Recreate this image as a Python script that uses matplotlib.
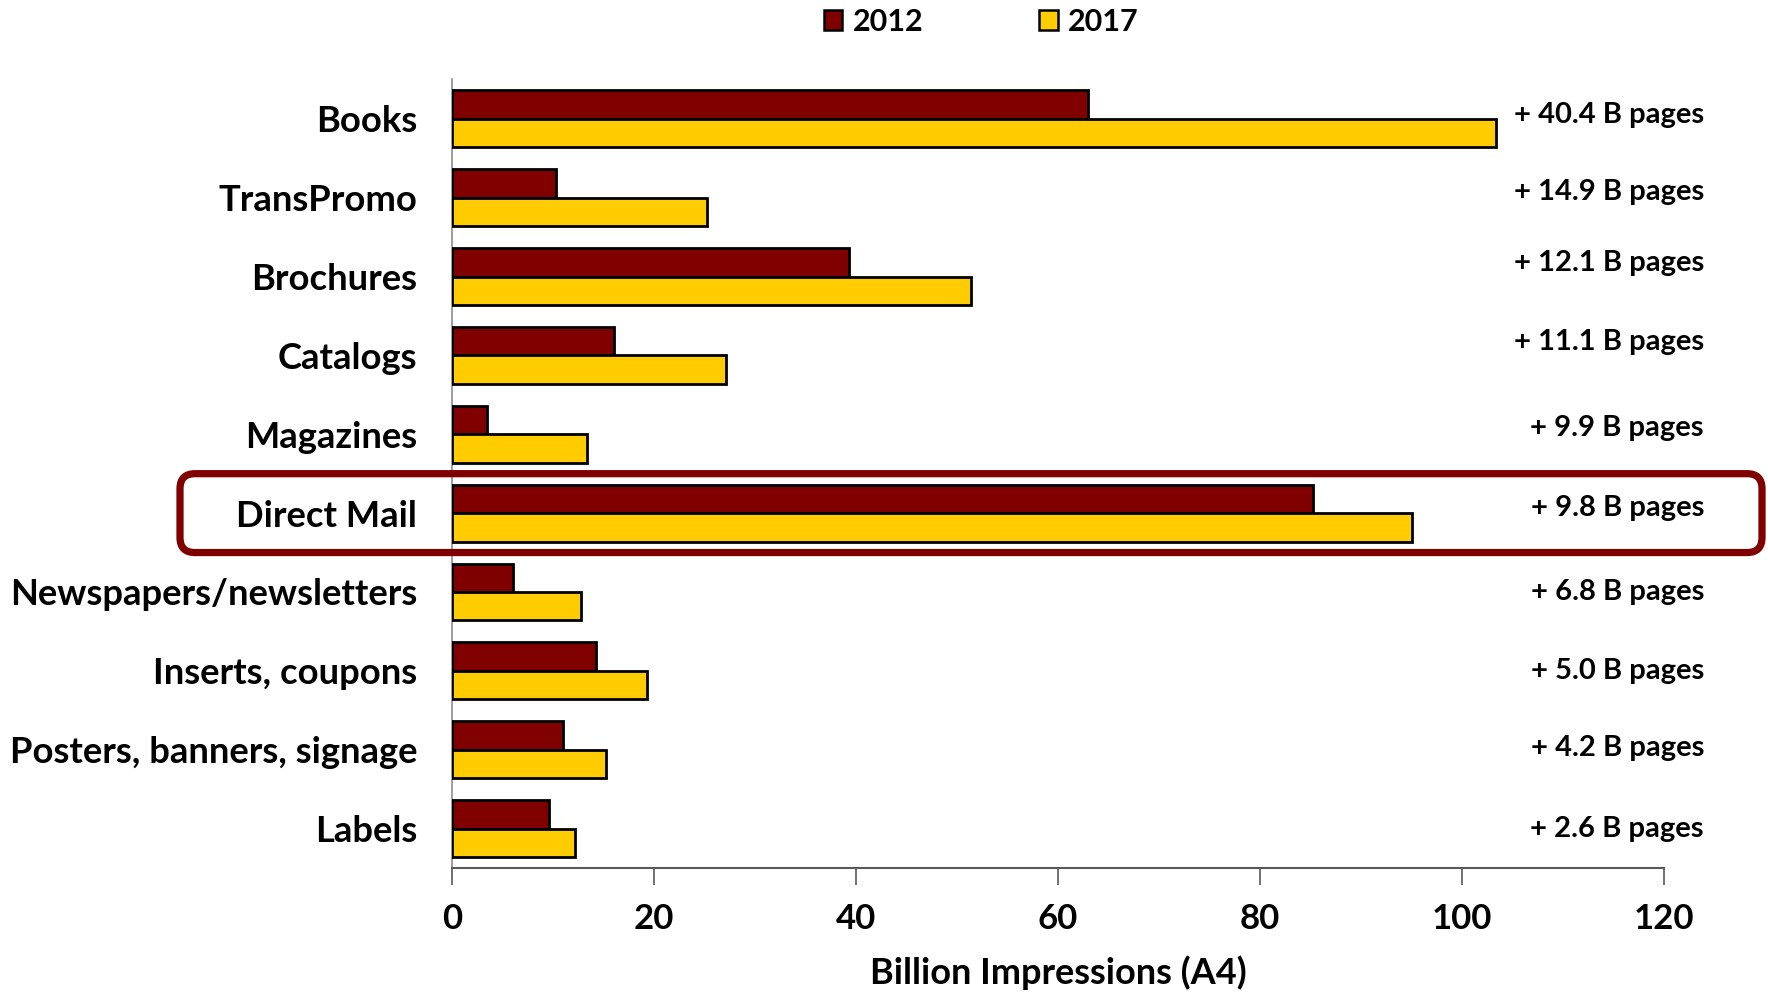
import matplotlib
matplotlib.use("Agg")
import matplotlib.pyplot as plt
import matplotlib.transforms as mtransforms
from matplotlib.patches import FancyBboxPatch, Patch
import numpy as np

categories = ["Books", "TransPromo", "Brochures", "Catalogs", "Magazines",
              "Direct Mail", "Newspapers/newsletters", "Inserts, coupons",
              "Posters, banners, signage", "Labels"]
values_2012 = [63.0, 10.3, 39.3, 16.0, 3.5, 85.3, 6.0, 14.3, 11.0, 9.6]
values_2017 = [103.4, 25.2, 51.4, 27.1, 13.4, 95.1, 12.8, 19.3, 15.2, 12.2]
growth_labels = ["+ 40.4 B pages", "+ 14.9 B pages", "+ 12.1 B pages",
                 "+ 11.1 B pages", "+ 9.9 B pages", "+ 9.8 B pages",
                 "+ 6.8 B pages", "+ 5.0 B pages", "+ 4.2 B pages",
                 "+ 2.6 B pages"]
series_names = ["2012", "2017"]
highlight = "Direct Mail"
x_ticks = [0, 20, 40, 60, 80, 100, 120]
x_label = "Billion Impressions (A4)"

FONT = ["Lato", "DejaVu Sans"]
plt.rcParams["font.family"] = FONT
plt.rcParams["font.weight"] = "bold"

C2012 = "#800000"
C2017 = "#FFCC00"

fig = plt.figure(figsize=(17.68, 9.92), dpi=100)
ax = fig.add_axes([0.2557, 0.125, 0.941 - 0.2557, 0.795])

y = np.arange(len(categories))
h = 0.36
ax.barh(y - h / 2, values_2012, height=h, color=C2012, edgecolor="black",
        linewidth=2.0, label=series_names[0], zorder=3)
ax.barh(y + h / 2, values_2017, height=h, color=C2017, edgecolor="black",
        linewidth=2.0, label=series_names[1], zorder=3)

ax.set_ylim(len(categories) - 0.5, -0.5)
ax.set_xlim(0, 120)
ax.set_xticks(x_ticks)
ax.set_xticklabels([str(t) for t in x_ticks])
ax.set_yticks(y)
ax.set_yticklabels(categories)
ax.tick_params(axis="y", length=0, pad=25, labelsize=26.2)
ax.tick_params(axis="x", length=12, width=1.2, color="#595959", pad=13,
               labelsize=25, direction="out")
for lbl in ax.get_xticklabels() + ax.get_yticklabels():
    lbl.set_fontweight("bold")

for s in ["top", "right"]:
    ax.spines[s].set_visible(False)
ax.spines["left"].set_color("#8c8c8c")
ax.spines["left"].set_linewidth(1.2)
ax.spines["bottom"].set_color("#595959")
ax.spines["bottom"].set_linewidth(1.5)

ax.set_xlabel(x_label, fontsize=26, fontweight="bold", labelpad=15)

# growth annotations at right side (x in figure fraction, y in data rows)
trans = mtransforms.blended_transform_factory(fig.transFigure, ax.transData)
nudges = [-0.05, -0.07, -0.17, -0.17, -0.08, -0.07, 0.0, 0.0, -0.02, 0.0]
for i, txt in enumerate(growth_labels):
    ax.text(1704 / 1768, i + nudges[i], txt, transform=trans,
            ha="right", va="center", fontsize=21, fontweight="bold")

# legend
handles = [Patch(facecolor=C2012, edgecolor="black", linewidth=1.8),
           Patch(facecolor=C2017, edgecolor="black", linewidth=1.8)]
fig.legend(handles, series_names, loc="upper center", bbox_to_anchor=(0.555, 1.02),
           ncol=2, frameon=False, prop={"family": FONT, "weight": "bold", "size": 22},
           handlelength=0.6, handleheight=0.6, handletextpad=0.35, columnspacing=3.8)

# highlight rounded box around the Direct Mail row
fig.canvas.draw()
idx = categories.index(highlight)
to_in = fig.dpi_scale_trans.inverted()
(_, y_top) = (ax.transData + to_in).transform((0, idx - 0.5))
(_, y_bot) = (ax.transData + to_in).transform((0, idx + 0.5))
x0_in, x1_in = 180 / 100, 1762 / 100
box = FancyBboxPatch((x0_in, y_bot), x1_in - x0_in, y_top - y_bot,
                     boxstyle="round,pad=0,rounding_size=0.15",
                     transform=fig.dpi_scale_trans, fill=False,
                     edgecolor=C2012, linewidth=5.2, zorder=10, clip_on=False)
fig.add_artist(box)

fig.savefig("out.png", dpi=100)
